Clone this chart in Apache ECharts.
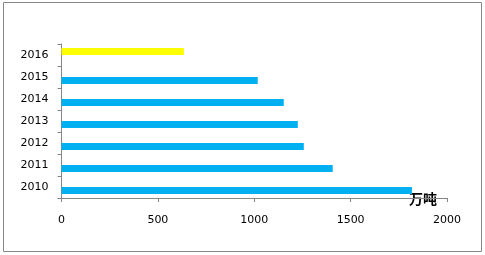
<!DOCTYPE html>
<html><head><meta charset="utf-8">
<script src="https://cdn.jsdelivr.net/npm/echarts@6/dist/echarts.min.js"></script>
<style>html,body{margin:0;padding:0;background:#fff}#c{width:485px;height:255px}</style>
</head><body><div id="c"></div>
<script>
const categories = ['2010','2011','2012','2013','2014','2015','2016'];
const blueValues = [1818, 1407, 1257, 1226, 1153, 1018, null];
const yellowValues = [null, null, null, null, null, null, 635];
const xTicks = [0, 500, 1000, 1500, 2000];
const unitLabel = '万吨';

const chart = echarts.init(document.getElementById('c'), null, {renderer:'canvas'});
chart.setOption({
  animation:false,
  backgroundColor:'#fff',
  graphic:[
    {type:'rect', shape:{x:3.5,y:2.5,width:478,height:249}, style:{fill:'none',stroke:'#888',lineWidth:1}, silent:true},
    {type:'text', left:409, top:192, style:{text:unitLabel, font:'bold 14px "Noto Sans CJK SC"', fill:'#000'}}
  ],
  grid:{left:61.5, right:38, top:44, bottom:57, containLabel:false},
  xAxis:{
    type:'value', min:xTicks[0], max:xTicks[xTicks.length-1], interval:500,
    axisLine:{show:true, lineStyle:{color:'#868686'}},
    axisTick:{show:true, length:4, lineStyle:{color:'#868686'}},
    splitLine:{show:false},
    axisLabel:{color:'#000', fontFamily:'DejaVu Sans', fontSize:11, margin:17, formatter:function(v){return String(v);}}
  },
  yAxis:{
    type:'category', data:categories,
    axisLine:{show:true, lineStyle:{color:'#868686'}},
    axisTick:{show:true, length:4, lineStyle:{color:'#868686'}},
    axisLabel:{color:'#000', fontFamily:'DejaVu Sans', fontSize:11, margin:13}
  },
  series:[
    {type:'bar', data:yellowValues, barWidth:7, barGap:'0%', itemStyle:{color:'#FFFF00'}},
    {type:'bar', data:blueValues, barWidth:7, barGap:'0%', itemStyle:{color:'#00B0F0'}}
  ]
});
</script></body></html>
